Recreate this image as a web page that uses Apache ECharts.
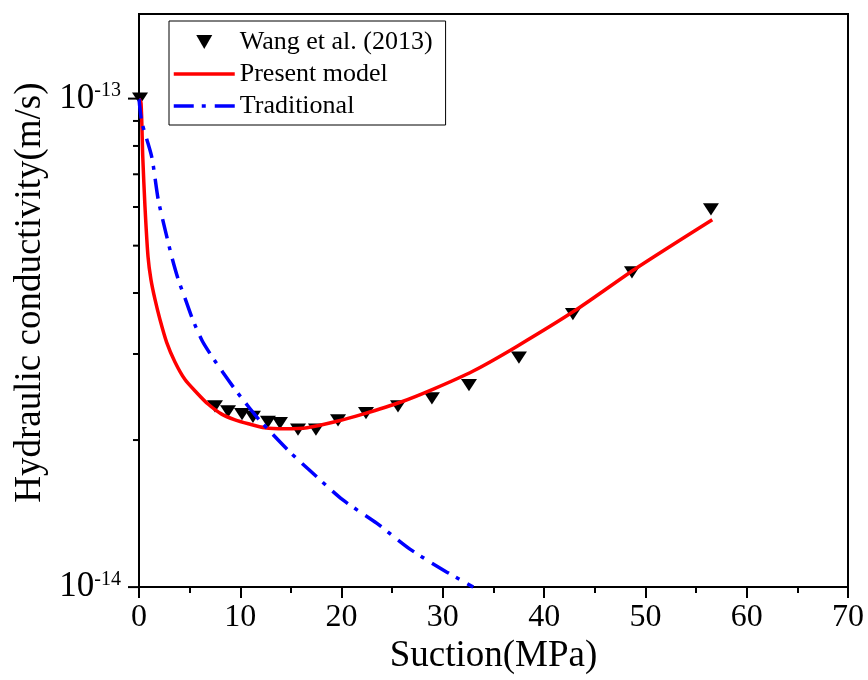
<!DOCTYPE html>
<html><head><meta charset="utf-8">
<script src="https://cdn.jsdelivr.net/npm/echarts@6/dist/echarts.min.js"></script>
<style>html,body{margin:0;padding:0;background:#fff}#c{width:868px;height:680px}</style>
</head><body><div id="c"></div>
<script>
// Wang et al. (2013) measured points
const wangX = [0.1, 7.5, 8.79, 10.17, 11.25, 12.73, 13.92, 15.7, 17.47, 19.65, 22.41, 25.57, 28.92, 32.58, 37.51, 42.84, 48.67, 56.47];
const wangY = [1.0e-13, 2.345e-14, 2.29e-14, 2.26e-14, 2.23e-14, 2.18e-14, 2.165e-14, 2.10e-14, 2.10e-14, 2.195e-14, 2.27e-14, 2.345e-14, 2.435e-14, 2.59e-14, 2.95e-14, 3.62e-14, 4.41e-14, 5.93e-14];
// Present model curve
const presentX = [0, 0.2, 0.37, 0.59, 0.89, 1.18, 1.58, 2.07, 2.73, 3.55, 4.54, 5.70, 6.81, 8.16, 9.48, 10.8, 12.4, 14.4, 16.6, 19.55, 22.1, 25.8, 29.0, 33.0, 37.3, 43.2, 49.2, 56.6];
const presentY = [1.0e-13, 9.8e-14, 7.61e-14, 6.01e-14, 4.75e-14, 4.26e-14, 3.88e-14, 3.53e-14, 3.17e-14, 2.89e-14, 2.66e-14, 2.50e-14, 2.37e-14, 2.26e-14, 2.20e-14, 2.16e-14, 2.12e-14, 2.11e-14, 2.12e-14, 2.185e-14, 2.26e-14, 2.39e-14, 2.54e-14, 2.77e-14, 3.11e-14, 3.70e-14, 4.51e-14, 5.65e-14];
// Traditional curve
const tradX = [0, 0.27, 1.25, 1.9, 2.57, 3.23, 3.88, 4.55, 5.3, 6.25, 7.18, 8.29, 9.48, 10.46, 11.25, 11.95, 14.9, 16.9, 20.1, 23.5, 26.75, 30.4, 33.0];
const tradY = [1.0e-13, 8.97e-14, 7.61e-14, 6.21e-14, 5.40e-14, 4.75e-14, 4.26e-14, 3.90e-14, 3.53e-14, 3.19e-14, 2.97e-14, 2.75e-14, 2.54e-14, 2.39e-14, 2.28e-14, 2.19e-14, 1.89e-14, 1.73e-14, 1.51e-14, 1.35e-14, 1.196e-14, 1.073e-14, 1.0e-14];
// axes
const xMin = 0, xMax = 70, xStep = 10;
const yMin = 1e-14, yMax = 1.49e-13;
const yMajorTicks = [1e-14, 1e-13];
const yMinorTicks = [2e-14, 3e-14, 4e-14, 5e-14, 6e-14, 7e-14, 8e-14, 9e-14];
const names = ['Wang et al. (2013)', 'Present model', 'Traditional'];

const FF = '"Liberation Serif", "Times New Roman", serif';
const zip = (a, b) => a.map((v, i) => [v, b[i]]);
const DOWN_TRI = 'path://M0,0L16,0L8,14Z';
const chart = echarts.init(document.getElementById('c'), null, {renderer: 'canvas'});
const blk = {color: '#000', width: 2};
const isPow10 = v => Math.abs(Math.log10(v) - Math.round(Math.log10(v))) < 1e-6;
// y-axis tick marks placed through the log axis scale
const tickData = yMajorTicks.map(v => [xMin, v, 11]).concat(yMinorTicks.map(v => [xMin, v, 6]));
chart.setOption({
  animation: false,
  backgroundColor: '#fff',
  textStyle: {fontFamily: FF},
  grid: {left: 139, right: 20, top: 14, bottom: 92, show: true, borderColor: '#000', borderWidth: 2, containLabel: false},
  legend: {
    orient: 'vertical', left: 169, top: 21, padding: [8, 13, 6, 3],
    itemWidth: 61, itemHeight: 14, itemGap: 6,
    symbolKeepAspect: true,
    borderColor: '#000', borderWidth: 1, borderRadius: 0,
    textStyle: {fontFamily: FF, fontSize: 26, color: '#000', lineHeight: 26},
    data: [
      {name: names[0], icon: DOWN_TRI, itemStyle: {color: '#000'}},
      {name: names[1], itemStyle: {opacity: 0}, lineStyle: {width: 3.5}},
      {name: names[2], itemStyle: {opacity: 0}, lineStyle: {width: 3.5}}
    ]
  },
  xAxis: {
    type: 'value', min: xMin, max: xMax, interval: xStep,
    axisLine: {lineStyle: blk},
    axisTick: {length: 11, lineStyle: blk},
    minorTick: {show: true, splitNumber: 2, length: 6, lineStyle: blk},
    splitLine: {show: false},
    axisLabel: {fontFamily: FF, fontSize: 32, color: '#000', margin: 14},
    name: 'Suction(MPa)', nameLocation: 'middle', nameGap: 50,
    nameTextStyle: {fontFamily: FF, fontSize: 37, color: '#000'}
  },
  yAxis: {
    type: 'log', logBase: 10, min: yMin, max: yMax,
    axisLine: {lineStyle: blk},
    axisTick: {show: false},
    splitLine: {show: false},
    axisLabel: {
      margin: 18,
      formatter: v => isPow10(v) ? '{b|10}{s|' + Math.round(Math.log10(v)) + '}' : '',
      rich: {
        b: {fontFamily: FF, fontSize: 35, color: '#000'},
        s: {fontFamily: FF, fontSize: 20, color: '#000', verticalAlign: 'top'}
      }
    },
    name: 'Hydraulic conductivity(m/s)', nameLocation: 'middle', nameGap: 90,
    nameTextStyle: {fontFamily: FF, fontSize: 37, color: '#000', padding: [0, 0, 0, 16]}
  },
  series: [{
    name: 'yticks', type: 'custom', data: tickData, clip: false, silent: true, z: 10,
    encode: {x: 0, y: 1},
    renderItem: (params, api) => {
      const p = api.coord([api.value(0), api.value(1)]);
      const len = api.value(2);
      return {type: 'line', shape: {x1: p[0] - len, y1: p[1], x2: p[0], y2: p[1]},
              style: {stroke: '#000', lineWidth: 2}};
    }
  }, {
    name: names[0], type: 'scatter', data: zip(wangX, wangY),
    symbol: DOWN_TRI, symbolSize: [16, 14], symbolKeepAspect: true,
    itemStyle: {color: '#000', opacity: 1}, z: 2
  }, {
    name: names[1], type: 'line', data: zip(presentX, presentY), smooth: 0.25,
    showSymbol: false, symbol: 'none',
    lineStyle: {color: '#ff0000', width: 3.5}, itemStyle: {color: '#ff0000'}, z: 3
  }, {
    name: names[2], type: 'line', data: zip(tradX, tradY), smooth: 0.25,
    showSymbol: false, symbol: 'none',
    lineStyle: {color: '#0000ff', width: 3.5, type: [20, 8, 4, 9]}, itemStyle: {color: '#0000ff'}, z: 4
  }]
});
</script></body></html>
